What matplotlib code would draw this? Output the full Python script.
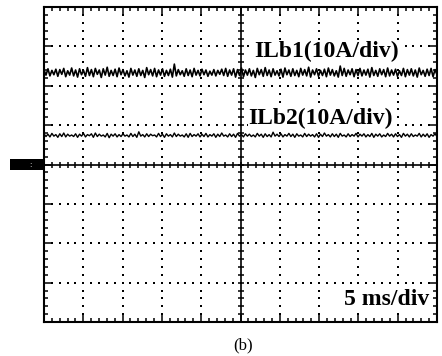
import numpy as np
import matplotlib
matplotlib.use("Agg")
import matplotlib.pyplot as plt
from matplotlib.patches import Rectangle

# scope screen: 10 x 8 divisions, ground at 0
n_xdiv, n_ydiv = 10, 8

# ILb1 trace (div)
ilb1 = [2.40,2.27,2.43,2.25,2.39,2.28,2.42,2.24,2.41,2.29,2.44,2.23,2.38,2.27,2.45,2.25,2.40,2.22,2.43,2.28,
        2.39,2.24,2.46,2.26,2.41,2.23,2.44,2.29,2.40,2.21,2.43,2.27,2.47,2.24,2.39,2.26,2.42,2.23,2.45,2.28,
        2.41,2.25,2.38,2.22,2.44,2.27,2.40,2.24,2.43,2.26,2.39,2.21,2.46,2.28,2.41,2.25,2.44,2.23,2.40,2.27,
        2.43,2.24,2.39,2.26,2.42,2.22,2.55,2.25,2.41,2.28,2.38,2.24,2.43,2.26,2.40,2.23,2.44,2.27,2.39,2.25,
        2.42,2.28,2.40,2.24,2.37,2.27,2.41,2.25,2.39,2.29,2.42,2.26,2.44,2.24,2.40,2.27,2.43,2.22,2.41,2.26,
        2.45,2.23,2.40,2.27,2.43,2.25,2.39,2.21,2.44,2.28,2.41,2.24,2.46,2.26,2.40,2.23,2.43,2.27,2.38,2.25,
        2.42,2.22,2.45,2.28,2.40,2.24,2.43,2.26,2.39,2.23,2.44,2.27,2.41,2.25,2.47,2.22,2.40,2.28,2.43,2.24,
        2.39,2.26,2.42,2.23,2.45,2.27,2.41,2.25,2.38,2.22,2.50,2.26,2.44,2.24,2.40,2.28,2.43,2.23,2.41,2.26,
        2.44,2.25,2.40,2.27,2.42,2.22,2.46,2.26,2.39,2.24,2.43,2.28,2.41,2.23,2.45,2.25,2.40,2.27,2.42,2.24,
        2.38,2.26,2.44,2.23,2.41,2.27,2.43,2.25,2.40,2.22,2.45,2.28,2.39,2.24,2.42,2.26,2.44,2.23,2.41,2.28]

# ILb2 trace (div)
ilb2 = [0.78,0.71,0.77,0.70,0.79,0.72,0.76,0.69,0.78,0.71,0.80,0.70,0.77,0.72,0.75,0.71,0.78,0.69,0.77,0.72,
        0.79,0.70,0.76,0.73,0.78,0.69,0.80,0.71,0.77,0.72,0.75,0.70,0.79,0.68,0.77,0.72,0.78,0.70,0.76,0.71,
        0.78,0.72,0.75,0.70,0.79,0.71,0.77,0.69,0.83,0.72,0.76,0.70,0.78,0.71,0.77,0.73,0.75,0.70,0.79,0.71,
        0.77,0.69,0.78,0.72,0.76,0.70,0.80,0.71,0.77,0.72,0.75,0.70,0.78,0.69,0.79,0.71,0.76,0.72,0.78,0.70,
        0.77,0.71,0.79,0.70,0.76,0.72,0.78,0.69,0.77,0.71,0.80,0.72,0.75,0.70,0.78,0.71,0.77,0.69,0.79,0.72,
        0.76,0.70,0.78,0.72,0.77,0.71,0.75,0.70,0.79,0.72,0.77,0.69,0.78,0.71,0.76,0.70,0.82,0.72,0.77,0.71,
        0.78,0.70,0.76,0.72,0.79,0.71,0.77,0.69,0.78,0.72,0.75,0.70,0.79,0.71,0.77,0.72,0.76,0.70,0.78,0.69,
        0.77,0.71,0.80,0.72,0.76,0.70,0.78,0.71,0.77,0.69,0.79,0.72,0.75,0.70,0.78,0.71,0.76,0.72,0.79,0.70,
        0.77,0.72,0.78,0.70,0.76,0.71,0.79,0.69,0.77,0.72,0.78,0.70,0.75,0.71,0.79,0.72,0.77,0.70,0.78,0.71,
        0.76,0.69,0.79,0.72,0.77,0.70,0.78,0.71,0.75,0.72,0.79,0.70,0.77,0.71,0.78,0.69,0.76,0.72,0.78,0.71]

labels = ["ILb1(10A/div)", "ILb2(10A/div)"]
label_pos = [(5.35, 2.86), (5.2, 1.17)]
timebase = "5 ms/div"
caption = "(b)"

fig = plt.figure(figsize=(4.42, 3.56), dpi=100)
ax = fig.add_axes([44 / 442, 34 / 356, 393 / 442, 315 / 356])
ax.set_xlim(0, n_xdiv)
ax.set_ylim(-n_ydiv / 2, n_ydiv / 2)

# dotted graticule
dot_x = np.arange(0, n_xdiv + 0.01, 0.2)
dot_y = np.arange(-n_ydiv / 2, n_ydiv / 2 + 0.01, 0.2)
for gy in range(-3, 4):
    if gy != 0:
        ax.plot(dot_x, np.full_like(dot_x, gy), ls="none", marker="s", ms=1.7, color="black", mew=0)
for gx in range(1, n_xdiv):
    if gx != 5:
        ax.plot(np.full_like(dot_y, gx), dot_y, ls="none", marker="s", ms=1.7, color="black", mew=0)

# centre cross with ticks
ax.axhline(0, color="black", lw=1.2)
ax.axvline(5, color="black", lw=1.2)
ax.plot(dot_x, np.zeros_like(dot_x), ls="none", marker="|", ms=5, mew=1.1, color="black")
ax.plot(np.full_like(dot_y, 5), dot_y, ls="none", marker="_", ms=5, mew=1.1, color="black")

# traces
t1 = np.linspace(0, n_xdiv, len(ilb1))
t2 = np.linspace(0, n_xdiv, len(ilb2))
ax.plot(t1, ilb1, color="black", lw=1.2)
ax.plot(t2, ilb2, color="black", lw=1.0)

# border ticks
ax.set_xticks(np.arange(0, n_xdiv + 1, 1))
ax.set_yticks(np.arange(-4, 5, 1))
ax.set_xticks(dot_x, minor=True)
ax.set_yticks(dot_y, minor=True)
ax.tick_params(which="both", direction="in", top=True, right=True,
               labelbottom=False, labelleft=False, width=1.1)
ax.tick_params(which="major", length=5)
ax.tick_params(which="minor", length=3)
for s in ax.spines.values():
    s.set_linewidth(1.5)

font = ["Liberation Serif", "DejaVu Serif"]
for lab, (lx, ly) in zip(labels, label_pos):
    ax.text(lx, ly, lab, fontsize=17, fontweight="bold", family=font, va="center", ha="left",
            bbox=dict(facecolor="white", edgecolor="none", pad=0.5))
ax.text(9.8, -3.42, timebase, fontsize=17, fontweight="bold", family=font, va="center", ha="right",
        bbox=dict(facecolor="white", edgecolor="none", pad=0.5))

# ground marker
ax.add_patch(Rectangle((-34 / 39.3, -0.15), 34 / 39.3, 0.28, transform=ax.transData,
                       facecolor="black", edgecolor="none", clip_on=False))
ax.text(-14 / 39.3, -0.01, ":", color="white", fontsize=5, ha="center", va="center", clip_on=False)

fig.text(243 / 442, 1 - 345 / 356, caption, fontsize=12, family=font, ha="center", va="center")

fig.savefig("out.png", dpi=100)
